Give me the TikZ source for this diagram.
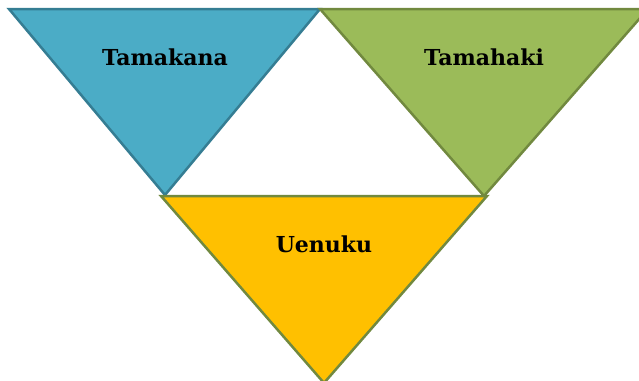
\documentclass[tikz,border=0pt]{standalone}
\usepackage{fontspec}
\setmainfont{DejaVu Serif}
\begin{document}
\begin{tikzpicture}[x=1pt,y=-1pt,
  tri/.style={line width=2.5pt, line join=miter},
  lbl/.style={font=\fontsize{22}{26}\selectfont\bfseries, text=black, inner sep=0pt}]
\definecolor{bluefill}{HTML}{4BACC6}
\definecolor{blueline}{HTML}{357D93}
\definecolor{greenfill}{HTML}{9BBB59}
\definecolor{greenline}{HTML}{71893F}
\definecolor{yellowfill}{HTML}{FFC000}
\useasboundingbox (0,0) rectangle (639,380);
\begin{scope}
\clip (0,0) rectangle (639,380);
\draw[tri, fill=bluefill, draw=blueline] (9,9) -- (320,9) -- (165,195) -- cycle;
\draw[tri, fill=greenfill, draw=greenline] (320,9) -- (648,9) -- (484,196) -- cycle;
\draw[tri, fill=yellowfill, draw=greenline] (161,196) -- (487,196) -- (324,383) -- cycle;
\end{scope}
\node[lbl] (tamakana) at (165,57) {Tamakana};
\node[lbl] (tamahaki) at (484,57) {Tamahaki};
\node[lbl] (uenuku) at (324,244) {Uenuku};
\end{tikzpicture}
\end{document}
